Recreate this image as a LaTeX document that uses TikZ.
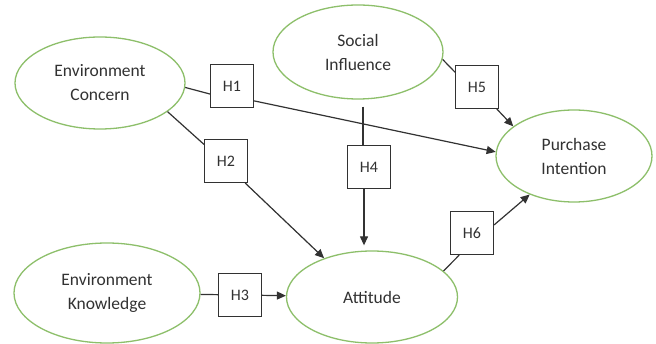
\documentclass[tikz,border=0pt]{standalone}
\usepackage{fontspec}
\setmainfont{Carlito}
\usetikzlibrary{arrows.meta,shapes.geometric}
\definecolor{ellgreen}{RGB}{141,191,106}
\definecolor{ink}{RGB}{50,50,50}
\begin{document}
\begin{tikzpicture}[x=1pt,y=-1pt,
  construct/.style={ellipse,draw=ellgreen,line width=1.3pt,align=center,
    font=\fontsize{17.5}{24}\selectfont,text=ink,inner sep=0pt},
  hyp/.style={draw=ink,line width=1.1pt,minimum size=43pt,inner sep=0pt,
    font=\fontsize{16}{18}\selectfont,text=ink},
  link/.style={draw=ink,line width=1.2pt},
  arr/.style={link,-{Triangle[length=9pt,width=8pt]}}]
\useasboundingbox (0,0) rectangle (656,344);
\fill[white] (0,0) rectangle (656,344);
% constructs
\node[construct,minimum width=170pt,minimum height=92pt] (ec) at (100,83) {Environment\\Concern};
\node[construct,minimum width=170pt,minimum height=94pt] (si) at (358,52) {Social\\Influence};
\node[construct,minimum width=156pt,minimum height=92pt] (pi) at (574,156) {Purchase\\Intention};
\node[construct,minimum width=186pt,minimum height=100pt] (ek) at (107,293) {Environment\\Knowledge};
\node[construct,minimum width=171pt,minimum height=92pt] (at) at (372,297) {Attitude};
% hypotheses
\node[hyp] (h1) at (232,86) {H1};
\node[hyp] (h2) at (226,161) {H2};
\node[hyp] (h3) at (240,295) {H3};
\node[hyp] (h4) at (369,167) {H4};
\node[hyp] (h5) at (477,87) {H5};
\node[hyp] (h6) at (472,233) {H6};
% connectors
\draw[link] (ec.-3) -- (h1.-160);
\draw[arr] (h1.-34) -- (pi.177);
\draw[link] (ec.-23) -- (h2.143);
\draw[arr] (h2.-49) -- (at.141);
\draw[link] (ek) -- (h3);
\draw[arr] (h3) -- (at);
\draw[link,shorten <=7pt] ([xshift=-6pt]h4.north |- si.south) -- ([xshift=-6pt]h4.north);
\draw[arr,shorten >=5pt] ([xshift=-5pt]h4.south) -- ([xshift=-5pt]h4.south |- at.north);
\draw[link] (si.-5) -- (h5.146);
\draw[arr] (h5.-48) -- (pi.154);
\draw[link] (at.20) -- (h6.-120);
\draw[arr] (h6.20) -- (pi.-139);
\end{tikzpicture}
\end{document}
